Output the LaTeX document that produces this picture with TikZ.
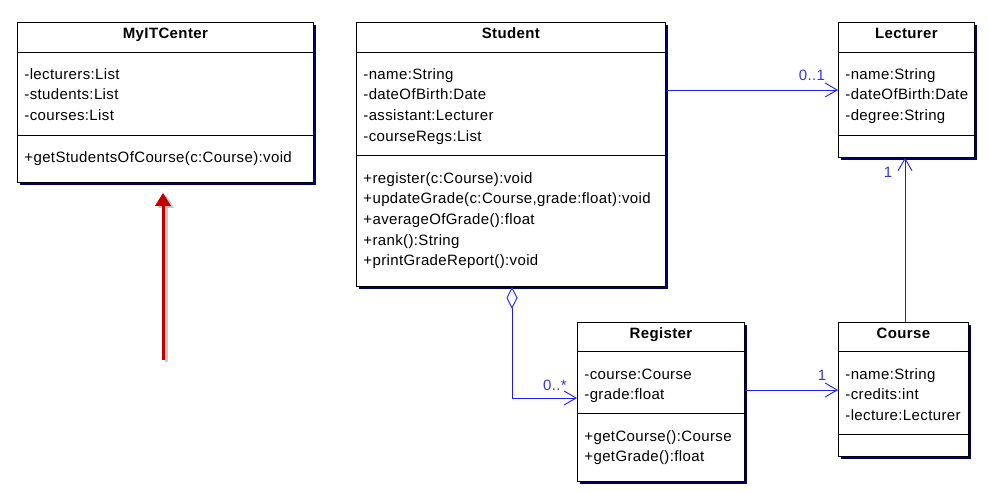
\documentclass[tikz,border=0pt]{standalone}
\usepackage{fontspec}
\setmainfont{Liberation Sans}[LetterSpace=2.5]
\usepackage{tikz}
\usetikzlibrary{arrows.meta,shadows}
\definecolor{umlblue}{RGB}{30,30,235}
\definecolor{umllabel}{RGB}{55,55,205}
\definecolor{umlshadow}{RGB}{0,0,100}
\definecolor{umlred}{RGB}{190,0,0}
\newcommand\umlmembers[3]{%
  \foreach \txt [count=\i from 0] in {#3}
    \node[member] at (#1,#2+20.7*\i) {\txt};}

\begin{document}
\begin{tikzpicture}[x=1pt,y=-1pt,line width=0.8pt,
    classbox/.style={draw=black,fill=white,inner sep=0,anchor=north west,
      general shadow={fill=umlshadow,shadow xshift=3pt,shadow yshift=-3pt}},
    classname/.style={font=\fontsize{15}{18}\selectfont\bfseries,anchor=base},
    member/.style={font=\fontsize{15}{18}\selectfont,anchor=base west,inner sep=0},
    link/.style={draw=umlblue,line width=0.9pt,-{Straight Barb[length=12pt,width=14pt]}},
    mult/.style={font=\fontsize{15}{18}\selectfont,text=umllabel,inner sep=0}]
                \useasboundingbox (0,0) rectangle (988,493);

                \node[classbox,minimum width=296,minimum height=160] (myit) at (17,22) {};
                \draw (myit.west |- 0,52) -- (myit.east |- 0,52);
                \draw (myit.west |- 0,135) -- (myit.east |- 0,135);
                \node[classname] at (myit.north |- 0,38) {MyITCenter};
                \umlmembers{24}{79}{-lecturers:List,-students:List,-courses:List}
                \umlmembers{24}{162}{+getStudentsOfCourse(c:Course):void}

                \node[classbox,minimum width=309,minimum height=264] (student) at (356,22) {};
                \draw (student.west |- 0,52) -- (student.east |- 0,52);
                \draw (student.west |- 0,155) -- (student.east |- 0,155);
                \node[classname] at (student.north |- 0,38) {Student};
                \umlmembers{363}{79}{-name:String,-dateOfBirth:Date,-assistant:Lecturer,-courseRegs:List}
                \umlmembers{363}{183}{+register(c:Course):void,{+updateGrade(c:Course,grade:float):void},+averageOfGrade():float,+rank():String,+printGradeReport():void}

                \node[classbox,minimum width=136,minimum height=135] (lecturer) at (838,22) {};
                \draw (lecturer.west |- 0,52) -- (lecturer.east |- 0,52);
                \draw (lecturer.west |- 0,135) -- (lecturer.east |- 0,135);
                \node[classname] at (lecturer.north |- 0,38) {Lecturer};
                \umlmembers{845}{79}{-name:String,-dateOfBirth:Date,-degree:String}

                \node[classbox,minimum width=167,minimum height=159] (register) at (577,322) {};
                \draw (register.west |- 0,351) -- (register.east |- 0,351);
                \draw (register.west |- 0,413) -- (register.east |- 0,413);
                \node[classname] at (register.north |- 0,338) {Register};
                \umlmembers{584}{379}{-course:Course,-grade:float}
                \umlmembers{584}{441}{+getCourse():Course,+getGrade():float}

                \node[classbox,minimum width=130,minimum height=134] (course) at (838,322) {};
                \draw (course.west |- 0,351) -- (course.east |- 0,351);
                \draw (course.west |- 0,434) -- (course.east |- 0,434);
                \node[classname] at (course.north |- 0,338) {Course};
                \umlmembers{845}{379}{-name:String,-credits:int,-lecture:Lecturer}

                \draw[link] (student.east |- 0,90) -- (lecturer.west |- 0,90);
                \node[mult] at (812,75) {0..1};
                \draw[link] (course.north -| 905,0) -- (lecturer.south -| 905,0);
                \node[mult] at (888,172) {1};
                \draw[link,{Diamond[open,fill=white,length=22pt,width=11pt]}-{Straight Barb[length=12pt,width=14pt]}]
                    (student.south -| 512,0) |- (register.west |- 0,398);
                \node[mult] at (555,385) {0..*};
                \draw[link] (register.east |- 0,390) -- (course.west |- 0,390);
                \node[mult] at (822,375) {1};

                \coordinate (hint) at (163,360);
                \draw[black!35,opacity=.6,line width=3pt,transform canvas={xshift=3pt,yshift=-2pt},
                    -{Triangle[length=13pt,width=15pt]},shorten >=10pt] (hint) -- (hint |- myit.south);
                \draw[umlred,line width=3pt,-{Triangle[length=13pt,width=15pt]},shorten >=10pt]
                    (hint) -- (hint |- myit.south);
            \end{tikzpicture}
\end{document}
